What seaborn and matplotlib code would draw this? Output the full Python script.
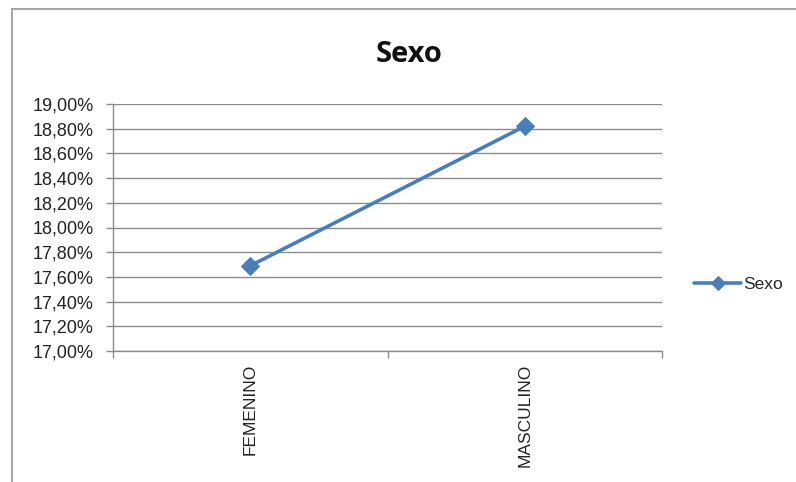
import matplotlib
matplotlib.use("Agg")
import matplotlib.pyplot as plt
import seaborn as sns
import pandas as pd
from matplotlib.ticker import FuncFormatter, MultipleLocator
from matplotlib.patches import Rectangle

categories = ["FEMENINO", "MASCULINO"]
values = [17.69, 18.82]
series_name = "Sexo"
title = "Sexo"

sns.set_theme(style="white")
plt.rcParams['font.family'] = ['Liberation Sans', 'DejaVu Sans']

df = pd.DataFrame({"cat": categories, "val": values, "serie": series_name})

fig = plt.figure(figsize=(7.96, 4.82), dpi=100)
fig.patch.set_facecolor("white")
fig.patches.append(Rectangle((12/796, -0.1), 1.2, 1 - 9/482 + 0.1, transform=fig.transFigure,
                             fill=False, edgecolor="#a6a6a6", linewidth=1.5, zorder=-1))
ax = fig.add_axes([113/796, 1 - 351/482, (662 - 113)/796, (351 - 104)/482])

color = "#4a7ebb"
sns.lineplot(data=df, x="cat", y="val", hue="serie", palette=[color], marker="D",
             markersize=9, linewidth=2.6, markeredgecolor=color, ax=ax, sort=False)

ax.set_ylim(17.0, 19.0)
ax.set_xlim(-0.5, 1.5)
ax.yaxis.set_major_locator(MultipleLocator(0.2))
ax.yaxis.set_major_formatter(FuncFormatter(lambda v, p: f"{v:.2f}%".replace(".", ",")))
ax.grid(axis="y", color="#8c8c8c", linewidth=1)
ax.set_axisbelow(True)
for s in ["top", "right"]:
    ax.spines[s].set_visible(False)
for s in ["left", "bottom"]:
    ax.spines[s].set_color("#8c8c8c")
    ax.spines[s].set_linewidth(1)

ax.set_xticks([0, 1])
ax.set_xticklabels(categories, rotation=90, fontsize=12.5, color="#222222")
ax.tick_params(axis="x", length=0, pad=9)
ax.set_xticks([-0.5, 0.5, 1.5], minor=True)
ax.tick_params(axis="x", which="minor", length=5, color="#8c8c8c", width=1, bottom=True)
ax.tick_params(axis="y", length=5, color="#8c8c8c", width=1, left=True, labelsize=13,
               labelcolor="#222222", pad=9)
ax.set_xlabel("")
ax.set_ylabel("")

fig.text(409/796, 1 - 55/482, title, ha="center", va="center", fontsize=21,
         fontweight="bold", family=["Open Sans", "DejaVu Sans"], color="#111111")

ax.legend(loc="center left", bbox_to_anchor=(1.03, 0.27), frameon=False, fontsize=12.5,
          handlelength=2.7, handletextpad=0.1, markerscale=0.75)

fig.savefig("out.png", dpi=100)
